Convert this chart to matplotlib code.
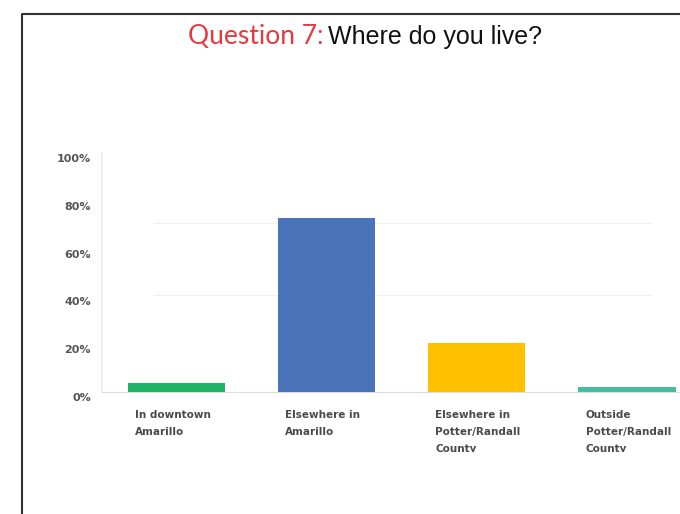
import matplotlib.pyplot as plt
from matplotlib.lines import Line2D
from matplotlib.transforms import Bbox, TransformedBbox, ScaledTranslation

categories = ["In downtown\nAmarillo", "Elsewhere in\nAmarillo",
              "Elsewhere in\nPotter/Randall\nCounty", "Outside\nPotter/Randall\nCounty"]
shares = [3.8, 72.8, 20.5, 2.0]
colors = ["#1fb467", "#4a74b9", "#ffc000", "#47bca3"]
ticks = [0, 20, 40, 60, 80, 100]
tick_labels = ["0%", "20%", "40%", "60%", "80%", "100%"]
grid_vals = [40.6, 70.7]

W, H = 680, 514
fig = plt.figure(figsize=(W / 100, H / 100), dpi=100)
fig.patch.set_facecolor("white")

# axes placed in pixel terms
ax = fig.add_axes([102 / W, 1 - 392 / H, 1 - 102 / W, (392 - 153) / H])
ax.set_xlim(-0.497, 3.353)
ax.set_ylim(0, 100)
xs = range(len(shares))
ax.bar(xs, shares, width=0.647, color=colors, zorder=3)

for g in grid_vals:
    ax.axhline(g, xmin=0.09, xmax=0.95, color="#f0f0f0", lw=0.8, zorder=1)

for sp in ("top", "right"):
    ax.spines[sp].set_visible(False)
ax.spines["left"].set_color("#ececec")
ax.spines["bottom"].set_color("#dcdcdc")
ax.spines["left"].set_linewidth(1.2)

ax.set_xticks([])
ax.set_yticks(ticks)
ax.set_yticklabels(tick_labels, fontsize=8, fontweight="bold", color="#555555",
                   family="DejaVu Sans")
ax.tick_params(axis="y", length=0, pad=8)
off = ScaledTranslation(0, -0.05, fig.dpi_scale_trans)
for lbl in ax.get_yticklabels():
    lbl.set_transform(lbl.get_transform() + off)

# category labels, clipped at bottom like the screenshot
clip = TransformedBbox(Bbox([[0, 62 / H], [1, 1]]), fig.transFigure)
for i, c in enumerate(categories):
    t = ax.text(i - 0.323 + 0.047, -7.6, c, ha="left", va="top", fontsize=7.5,
                fontweight="bold", color="#4a4a4a", family="DejaVu Sans",
                linespacing=1.88)
    t.set_clip_box(clip)
    t.set_clip_on(True)

# title in two colours
fig.text(324 / W, 1 - 37 / H, "Question 7:", ha="right", va="center",
         fontsize=19, color="#e33a3f", family="Lato")
fig.text(328 / W, 1 - 37 / H, "Where do you live?", ha="left", va="center",
         fontsize=18, color="#111111", family="Liberation Sans")

# screenshot frame
fig.add_artist(Line2D([22 / W, 22 / W, 1], [0, 1 - 14 / H, 1 - 14 / H],
                      transform=fig.transFigure, color="#333333", lw=1.5))

fig.savefig("out.png", dpi=100, facecolor="white")
